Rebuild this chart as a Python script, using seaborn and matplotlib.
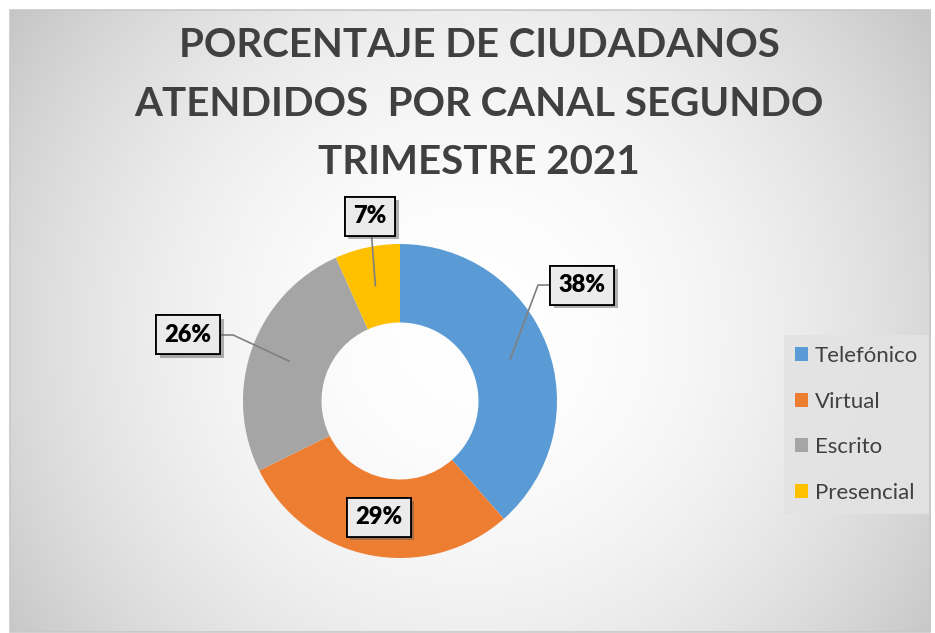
import numpy as np
import matplotlib
matplotlib.use("Agg")
import matplotlib.pyplot as plt
import matplotlib.patheffects as pe
from matplotlib.patches import Patch, Rectangle
import seaborn as sns

# ---------------- data ----------------
categories = ["Telefónico", "Virtual", "Escrito", "Presencial"]
values = [38.5, 29.2, 25.6, 6.7]
labels = ["38%", "29%", "26%", "7%"]
colors = ["#5B9BD5", "#ED7D31", "#A5A5A5", "#FFC000"]
title = "PORCENTAJE DE CIUDADANOS\nATENDIDOS  POR CANAL SEGUNDO\nTRIMESTRE 2021"

sns.set_theme(style="white")
plt.rcParams["font.family"] = ["Lato", "DejaVu Sans"]

W, H = 935, 633
fig = plt.figure(figsize=(W / 100, H / 100), dpi=100)
fig.patch.set_facecolor("white")

# background radial gradient inside chart frame
bx0, by0, bx1, by1 = 10, 10, 930, 632
bg = fig.add_axes([bx0 / W, 1 - by1 / H, (bx1 - bx0) / W, (by1 - by0) / H])
xs = np.arange(bx0, bx1)
ys = np.arange(by0, by1)
X, Y = np.meshgrid(xs, ys)
d2 = (X - 470) ** 2 + (Y - 330) ** 2
v = np.clip(1 - 7.2e-7 * d2, 0, 1)
bg.imshow(np.dstack([v, v, v]), aspect="auto", interpolation="bilinear")
bg.set_axis_off()
fig.patches.append(Rectangle((bx0 / W, 1 - by1 / H), (bx1 - bx0) / W, (by1 - by0) / H,
                             transform=fig.transFigure, fill=False,
                             edgecolor="#c8c8c8", lw=1.2, zorder=10))

# donut axes
cx, cy, R = 400, 401, 157
ax = fig.add_axes([(cx - R) / W, (H - cy - R) / H, 2 * R / W, 2 * R / H])
ax.set_axis_off()
wedges, _ = ax.pie(values, colors=colors, startangle=90, counterclock=False,
                   radius=1.0, wedgeprops=dict(width=0.5, linewidth=0))
ax.set_xlim(-1, 1)
ax.set_ylim(-1, 1)
ax.set_aspect("equal")

# label placement (layout): radius, angle for boxes; elbow offsets (px)
box_pos = {"38%": (1.375, 32.5), "29%": (0.751, 259.7), "26%": (1.414, 162.7), "7%": (1.193, 99.2)}
elbow_px = {"38%": -44, "26%": 45}

for w, lab in zip(wedges, labels):
    mid = np.deg2rad((w.theta1 + w.theta2) / 2)
    ax_, ay_ = 0.75 * np.cos(mid), 0.75 * np.sin(mid)
    r, ang = box_pos[lab]
    tx, ty = r * np.cos(np.deg2rad(ang)), r * np.sin(np.deg2rad(ang))
    if abs(r - 0.75) > 0.05:
        if lab in elbow_px:
            ex = tx + elbow_px[lab] / R
            ax.plot([ax_, ex, tx], [ay_, ty, ty], color="#7f7f7f", lw=1.2, zorder=3, clip_on=False)
        else:
            ax.plot([ax_, tx], [ay_, ty], color="#7f7f7f", lw=1.2, zorder=3, clip_on=False)
    t = ax.text(tx, ty, lab, ha="center", va="center", fontsize=17, fontweight="heavy",
                color="black", zorder=5,
                bbox=dict(boxstyle="square,pad=0.36", facecolor="#ebebeb",
                          edgecolor="black", linewidth=1.3))
    t.get_bbox_patch().set_path_effects([pe.withSimplePatchShadow(offset=(2.5, -2.5), alpha=0.45,
                                                                  shadow_rgbFace="#555555"),
                                         pe.Normal()])

# title
fig.text(479 / W, 1 - 27 / H, title, ha="center", va="top", fontsize=29,
         fontweight="bold", color="#404040", linespacing=1.72)

# legend
handles = [Patch(facecolor=c, edgecolor="none") for c in colors]
leg = fig.legend(handles, categories, loc="upper left", bbox_to_anchor=(784 / W, 1 - 335 / H),
                 frameon=True, fontsize=16, labelspacing=1.15, handlelength=0.6,
                 handleheight=0.6, handletextpad=0.3, borderpad=0.5, borderaxespad=0,
                 fancybox=False)
leg.get_frame().set_facecolor("#e3e3e3")
leg.get_frame().set_edgecolor("none")
leg.get_frame().set_alpha(0.9)
for txt in leg.get_texts():
    txt.set_color("#404040")

fig.savefig("out.png", dpi=100)
